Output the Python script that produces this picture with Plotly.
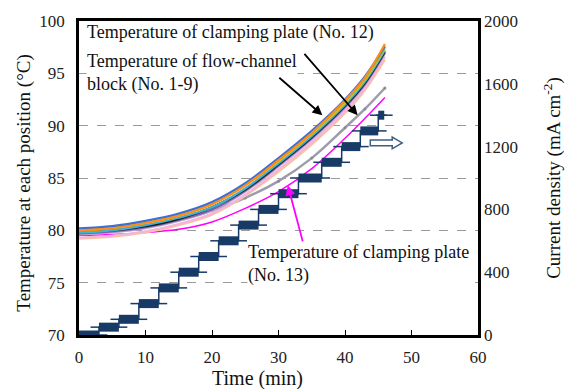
import plotly.graph_objects as go

# ---------------- data ----------------
time_grid = [0, 5, 10, 15, 20, 25, 30, 35, 40, 43, 46]

t_orange = [80.0, 80.2, 80.7, 81.4, 82.5, 84.3, 86.7, 89.3, 92.4, 94.6, 97.8]
t_blue = [80.2, 80.4, 80.9, 81.6, 82.7, 84.5, 86.9, 89.5, 92.5, 94.7, 97.6]
t_green = [80.1, 80.3, 80.8, 81.5, 82.6, 84.4, 86.8, 89.3, 92.3, 94.5, 97.5]
t_yellow = [80.0, 80.2, 80.7, 81.4, 82.5, 84.3, 86.6, 89.2, 92.2, 94.4, 97.4]
t_cyan = [79.8, 80.0, 80.5, 81.2, 82.2, 84.0, 86.4, 89.0, 92.0, 94.2, 97.2]
t_black = [79.9, 80.0, 80.4, 81.1, 82.2, 83.9, 86.3, 88.9, 91.9, 94.1, 97.1]
t_purple = [79.7, 79.9, 80.3, 81.0, 82.0, 83.8, 86.2, 88.8, 91.8, 94.0, 97.0]
t_lilac = [79.6, 79.8, 80.2, 80.9, 81.9, 83.7, 86.1, 88.7, 91.7, 93.9, 96.9]
t_pink = [79.3, 79.5, 79.9, 80.6, 81.6, 83.4, 85.8, 88.4, 91.4, 93.6, 96.6]
t_peach = [79.2, 79.4, 79.8, 80.5, 81.5, 83.3, 85.6, 88.2, 91.2, 93.4, 96.3]
t_gray = [79.9, 80.1, 80.5, 81.0, 81.9, 83.1, 84.7, 86.9, 89.8, 91.6, 93.6]
t_magenta = [79.5, 79.6, 79.8, 80.1, 80.8, 82.1, 83.7, 85.9, 88.8, 90.7, 92.7]

step_start = [0, 3, 6, 9, 12, 15, 18, 21, 24, 27, 30, 33, 36.5, 39.5, 42.3, 45.0]
step_end = [3, 6, 9, 12, 15, 18, 21, 24, 27, 30, 33, 36.5, 39.5, 42.3, 45.0, 45.9]
step_level = [0, 50, 100, 200, 300, 400, 500, 600, 700, 800, 900, 1000, 1100, 1200, 1300, 1400]

x_ticks = [0, 10, 20, 30, 40, 50, 60]
y_ticks = [70, 75, 80, 85, 90, 95, 100]
y2_ticks = [0, 400, 800, 1200, 1600, 2000]

FONT = "Liberation Serif"
NAVY = "#183a66"

fig = go.Figure()

bundle = [
    (t_peach, "#f9c49a"), (t_pink, "#f4b4dc"), (t_lilac, "#b9a6d6"),
    (t_purple, "#7e5fa8"), (t_black, "#1a1a1a"), (t_cyan, "#3fb3d0"),
    (t_yellow, "#f2c200"), (t_green, "#8cc63f"), (t_blue, "#3a6fd8"),
    (t_orange, "#ff8c1a"),
]
fig.add_trace(go.Scatter(x=time_grid, y=t_magenta, mode="lines",
                         line=dict(color="#ff00ff", width=1.5, shape="spline"),
                         showlegend=False))
fig.add_trace(go.Scatter(x=time_grid, y=t_gray, mode="lines+markers",
                         line=dict(color="#9c9cab", width=2.5, shape="spline"),
                         marker=dict(size=3, color="#8a8a99"),
                         showlegend=False))
for vals, col in bundle:
    fig.add_trace(go.Scatter(x=time_grid, y=vals, mode="lines",
                             line=dict(color=col, width=2.2, shape="spline"),
                             showlegend=False))

# current density steps (right axis)
seg_x, seg_y = [], []
for s, e, lv in zip(step_start, step_end, step_level):
    seg_x += [s, e, None]
    seg_y += [lv, lv, None]
conn_x, conn_y = [], []
for s, e, lv in zip(step_start, step_end, step_level):
    conn_x += [s, e]
    conn_y += [lv, lv]
fig.add_trace(go.Scatter(x=conn_x, y=conn_y, yaxis="y2", mode="lines",
                         line=dict(color=NAVY, width=1.5), showlegend=False))
fig.add_trace(go.Scatter(x=seg_x, y=seg_y, yaxis="y2", mode="lines+markers",
                         line=dict(color=NAVY, width=9),
                         marker=dict(symbol="line-ew", size=12,
                                     line=dict(color=NAVY, width=1.5)),
                         showlegend=False))

# hollow arrow pointing right (indicates right axis)
xa0, xa1, xa2 = 43.8, 47.1, 48.6
yc, bh, hh = 88.35, 0.28, 0.56
path = (f"M {xa0},{yc+bh} L {xa1},{yc+bh} L {xa1},{yc+hh} L {xa2},{yc} "
        f"L {xa1},{yc-hh} L {xa1},{yc-bh} L {xa0},{yc-bh} Z")
fig.add_shape(type="path", path=path, xref="x", yref="y",
              line=dict(color="#3d5f86", width=1.5), fillcolor="white")

ann = []
def txt(x, y, s):
    ann.append(dict(x=x, y=y, xref="x", yref="y", text=s, showarrow=False,
                    xanchor="left", yanchor="middle", align="left", bgcolor="white",
                    borderpad=0, font=dict(family=FONT, size=18, color="#111")))

txt(1.0, 98.9, "Temperature of clamping plate (No. 12)")
txt(1.0, 95.05, "Temperature of flow-channel<br>block (No. 1-9)")
txt(25.2, 76.75, "Temperature of clamping plate<br>(No. 13)")

def arrow(x, y, ax, ay, col):
    ann.append(dict(x=x, y=y, ax=ax, ay=ay, xref="x", yref="y", axref="x", ayref="y",
                    text="", showarrow=True, arrowhead=2, arrowsize=1.1,
                    arrowwidth=1.8, arrowcolor=col))

arrow(41.9, 91.0, 33.7, 97.0, "black")
arrow(36.6, 91.0, 29.9, 94.7, "black")
arrow(31.4, 84.3, 33.7, 78.8, "#ff00ff")

ann.append(dict(x=26.8, y=-0.14, xref="x", yref="paper", text="Time (min)",
                showarrow=False, xanchor="center", yanchor="middle",
                font=dict(family=FONT, size=20, color="#111")))
ann.append(dict(x=-0.138, y=0.485, xref="paper", yref="paper",
                text="Temperature at each position (°C)", textangle=-90,
                showarrow=False, xanchor="center", yanchor="middle",
                font=dict(family=FONT, size=19, color="#111")))
ann.append(dict(x=1.185, y=0.50, xref="paper", yref="paper",
                text="Current density (mA cm<sup>-2</sup>)", textangle=-90,
                showarrow=False, xanchor="center", yanchor="middle",
                font=dict(family=FONT, size=19, color="#111")))

tickfont = dict(family=FONT, size=17, color="#222")
fig.update_layout(
    width=565, height=389,
    margin=dict(l=79, r=87, t=13, b=54),
    paper_bgcolor="white", plot_bgcolor="white",
    showlegend=False,
    font=dict(family=FONT),
    annotations=ann,
    xaxis=dict(range=[0, 60], tickvals=x_ticks, ticks="inside", ticklen=5,
               tickcolor="black", showgrid=False, zeroline=False,
               showline=True, linecolor="black", linewidth=2.5, mirror=True,
               tickfont=tickfont, ticklabelstandoff=5),
    yaxis=dict(range=[70, 100], tickvals=y_ticks, showgrid=True,
               gridcolor="#9a9a9a", griddash="dash", gridwidth=1,
               zeroline=False, showline=True, linecolor="black", linewidth=2.5,
               mirror=True, tickfont=tickfont, ticklabelstandoff=8),
    yaxis2=dict(range=[0, 2000], tickvals=y2_ticks, overlaying="y", side="right",
                showgrid=False, zeroline=False, showline=False,
                tickfont=tickfont, ticklabelstandoff=5),
)

fig.write_html("out.html")
